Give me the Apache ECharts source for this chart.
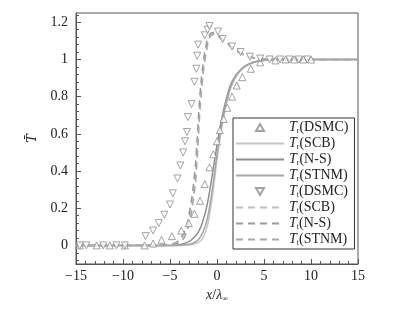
<!DOCTYPE html>
<html>
<head>
  <meta charset="utf-8">
  <title>T profile</title>
  <script src="https://cdn.jsdelivr.net/npm/echarts@6/dist/echarts.min.js"></script>
</head>
<body style="margin:0">
  <div id="main" style="width:398px;height:310px;"></div>
  <script type="text/javascript">
    // tick labels
    var yLabels = [0, 0.2, 0.4, 0.6, 0.8, 1, 1.2];
    var yMinor = [-0.08, -0.04, 0.04, 0.08, 0.12, 0.16, 0.24, 0.28, 0.32, 0.36, 0.44, 0.48, 0.52, 0.56,
                  0.64, 0.68, 0.72, 0.76, 0.84, 0.88, 0.92, 0.96, 1.04, 1.08, 1.12, 1.16, 1.24];

    // T_r curves (solid)
    var xr = [-15, -5, -4, -3, -2.5, -2, -1.5, -1, -0.5, 0, 0.5, 1, 1.5, 2, 2.5, 3, 4, 5, 6, 8, 15];
    var trSCB  = [0, 0, 0, 0.002, 0.006, 0.015, 0.04, 0.11, 0.26, 0.46, 0.63, 0.76, 0.85, 0.905, 0.94, 0.962, 0.985, 0.995, 1, 1, 1];
    var trNS   = [0, 0, 0.004, 0.02, 0.04, 0.07, 0.13, 0.23, 0.38, 0.54, 0.68, 0.79, 0.87, 0.915, 0.945, 0.966, 0.988, 0.996, 1, 1, 1];
    var trSTNM = [0, 0, 0.001, 0.006, 0.013, 0.03, 0.07, 0.15, 0.3, 0.49, 0.65, 0.775, 0.86, 0.91, 0.942, 0.964, 0.986, 0.995, 1, 1, 1];

    // T_t curves (dashed)
    var xt = [-15, -6, -5, -4.5, -4, -3.5, -3.2, -3, -2.7, -2.5, -2.3, -2.1, -1.9, -1.7, -1.5, -1.3, -1.1, -0.9, -0.7, -0.4, 0, 0.5, 1, 1.5, 2, 2.5, 3, 4, 5, 6, 15];
    var ttSCB  = [0, 0, 0.003, 0.008, 0.02, 0.05, 0.09, 0.13, 0.21, 0.28, 0.37, 0.52, 0.70, 0.84, 0.94, 1.01, 1.07, 1.11, 1.13, 1.14, 1.13, 1.11, 1.09, 1.07, 1.05, 1.035, 1.022, 1.008, 1.002, 1, 1];
    var ttNS   = [0, 0.001, 0.005, 0.012, 0.03, 0.07, 0.11, 0.16, 0.25, 0.33, 0.43, 0.58, 0.75, 0.88, 0.97, 1.04, 1.09, 1.12, 1.14, 1.145, 1.135, 1.115, 1.095, 1.073, 1.053, 1.037, 1.024, 1.009, 1.003, 1, 1];
    var ttSTNM = [0, 0, 0.002, 0.006, 0.016, 0.04, 0.075, 0.11, 0.18, 0.25, 0.33, 0.47, 0.65, 0.80, 0.91, 0.99, 1.05, 1.10, 1.125, 1.135, 1.128, 1.108, 1.088, 1.068, 1.048, 1.033, 1.02, 1.007, 1.002, 1, 1];

    // DSMC points
    var trDSMC = [[-14.6, 0], [-12.8, 0], [-11.4, 0], [-9.8, 0], [-7.7, 0], [-6.8, 0.01], [-5.9, 0.03], [-4.8, 0.05],
                  [-3.8, 0.08], [-3.0, 0.12], [-2.4, 0.17], [-1.8, 0.24], [-1.3, 0.33], [-0.8, 0.42], [-0.4, 0.49],
                  [0, 0.56], [0.3, 0.62], [0.7, 0.68], [1.1, 0.74], [1.6, 0.8], [2.1, 0.86], [2.7, 0.905], [3.6, 0.95],
                  [4.6, 0.985], [6.2, 0.995], [7.3, 1], [8.2, 1], [9.2, 1], [10.0, 1]];
    var ttDSMC = [[-14.6, 0], [-13.9, 0], [-12.1, 0], [-10.7, 0], [-9.8, 0], [-7.6, 0.05], [-6.8, 0.08], [-6.2, 0.12],
                  [-5.6, 0.165], [-5.0, 0.22], [-4.7, 0.28], [-4.2, 0.36], [-3.9, 0.43], [-3.6, 0.5], [-3.4, 0.56],
                  [-3.2, 0.61], [-3.1, 0.69], [-2.7, 0.76], [-2.4, 0.88], [-2.2, 0.95], [-2.1, 1.02], [-2.0, 1.08],
                  [-1.3, 1.13], [-1.0, 1.16], [-0.8, 1.18], [0.1, 1.15], [0.6, 1.11], [1.6, 1.07], [2.5, 1.04],
                  [3.5, 1.015], [4.6, 1.005], [5.6, 1], [6.7, 1], [7.7, 1], [8.7, 1], [9.6, 1]];

    var names = ['Tr(DSMC)', 'Tr(SCB)', 'Tr(N-S)', 'Tr(STNM)', 'Tt(DSMC)', 'Tt(SCB)', 'Tt(N-S)', 'Tt(STNM)'];

    function pairs(xs, ys) {
      return xs.map(function (x, i) { return [x, ys[i]]; });
    }

    var serif = 'Liberation Serif';

    function lineSeries(name, xs, ys, color, dashed) {
      return {
        name: name, type: 'line', data: pairs(xs, ys), symbol: 'none', smooth: 0.3,
        lineStyle: { color: color, width: 1.5, type: dashed ? [7, 5] : 'solid' },
        itemStyle: { color: color }
      };
    }

    function pointSeries(name, data, rot) {
      return {
        name: name, type: 'scatter', data: data, symbol: 'triangle', symbolSize: 7, symbolRotate: rot,
        itemStyle: { color: '#fff', borderColor: '#8c8c8c', borderWidth: 1 }, z: 3
      };
    }

    // legend entries: triangles for DSMC, bare lines for the rest
    var noMark = { color: 'rgba(0,0,0,0)', borderWidth: 0 };
    var legendData = names.map(function (n, i) {
      if (i === 0) return { name: n, icon: 'path://M4,0L8,7L0,7Z' };
      if (i === 4) return { name: n, icon: 'path://M0,0L8,0L4,7Z' };
      return { name: n, itemStyle: noMark };
    });

    var myChart = echarts.init(document.getElementById('main'));
    var option = {
      animation: false,
      grid: { left: 76, right: 40, top: 13, bottom: 46, show: true, borderColor: '#555', borderWidth: 1 },
      legend: {
        orient: 'vertical', left: 233, top: 118, data: legendData,
        backgroundColor: '#fff', borderColor: '#333', borderWidth: 1,
        padding: [2, 6, 2, 2], itemWidth: 48, itemHeight: 7, itemGap: 1, symbolKeepAspect: true,
        formatter: function (n) { return '{t|T}{s|' + n[1] + '}' + n.slice(2); },
        textStyle: {
          fontFamily: serif, fontSize: 14, color: '#222', lineHeight: 15,
          rich: {
            t: { fontFamily: serif, fontStyle: 'italic', fontSize: 14, color: '#222', lineHeight: 15 },
            s: { fontFamily: serif, fontSize: 8, color: '#222', padding: [6, 0, 0, 0], lineHeight: 9 }
          }
        }
      },
      xAxis: {
        type: 'value', min: -15, max: 15, interval: 5,
        name: '{i|x}/{i|\u03bb}{s|\u221e}', nameLocation: 'middle', nameGap: 22,
        nameTextStyle: {
          fontFamily: serif, fontSize: 14, color: '#222',
          rich: {
            i: { fontFamily: serif, fontStyle: 'italic', fontSize: 14, color: '#222' },
            s: { fontFamily: serif, fontSize: 8, color: '#222', padding: [8, 0, 0, 0] }
          }
        },
        axisLine: { onZero: false, lineStyle: { color: '#555' } },
        axisTick: { inside: true, length: 5, lineStyle: { color: '#555' } },
        minorTick: { show: true, splitNumber: 5, length: 3, lineStyle: { color: '#555' } },
        splitLine: { show: false },
        axisLabel: {
          fontFamily: serif, fontSize: 14, color: '#222', margin: 5,
          formatter: function (v) { return String(v).replace('-', '\u2212'); }
        }
      },
      yAxis: [{
        type: 'value', min: -0.1, max: 1.25,
        name: 'T\u0304', nameLocation: 'middle', nameGap: 37, nameRotate: 90,
        nameTextStyle: { fontFamily: 'DejaVu Serif', fontStyle: 'italic', fontSize: 13, color: '#222' },
        axisLine: { show: true, onZero: false, lineStyle: { color: '#555' } },
        axisTick: { show: true, inside: true, length: 5, customValues: yLabels, lineStyle: { color: '#555' } },
        axisLabel: { customValues: yLabels, fontFamily: serif, fontSize: 14, color: '#222', margin: 8 },
        splitLine: { show: false }
      }, {
        type: 'value', min: -0.1, max: 1.25, position: 'left',
        axisLine: { show: false, onZero: false },
        axisTick: { show: true, inside: true, length: 3, customValues: yMinor, lineStyle: { color: '#555' } },
        axisLabel: { show: false },
        splitLine: { show: false }
      }],
      series: [
        pointSeries(names[0], trDSMC, 0),
        lineSeries(names[1], xr, trSCB, '#c6c6c6', false),
        lineSeries(names[2], xr, trNS, '#8e8e8e', false),
        lineSeries(names[3], xr, trSTNM, '#a6a6a6', false),
        pointSeries(names[4], ttDSMC, 180),
        lineSeries(names[5], xt, ttSCB, '#c0c0c0', true),
        lineSeries(names[6], xt, ttNS, '#9a9a9a', true),
        lineSeries(names[7], xt, ttSTNM, '#aaaaaa', true)
      ]
    };
    myChart.setOption(option);
  </script>
</body>
</html>
